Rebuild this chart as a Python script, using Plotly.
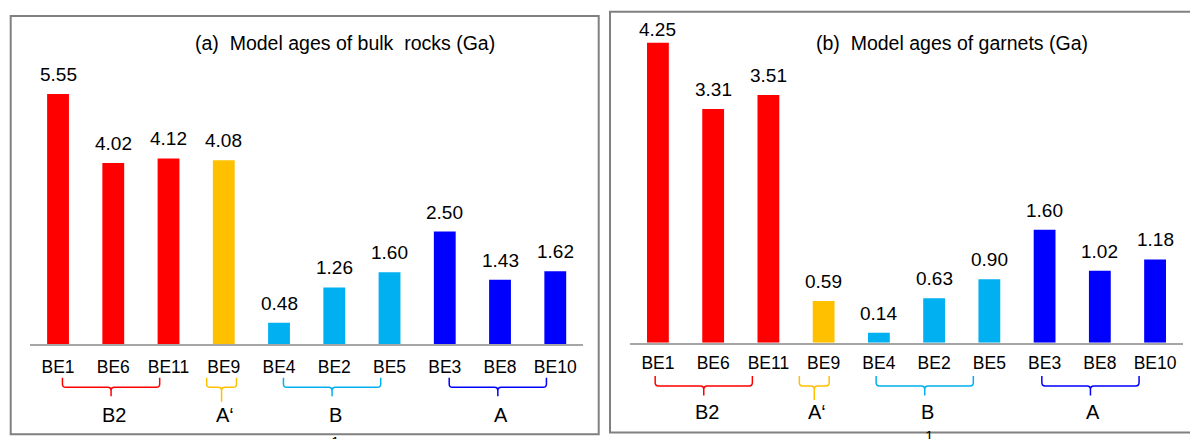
import plotly.graph_objects as go

# ---- data -------------------------------------------------------------
samples = ["BE1", "BE6", "BE11", "BE9", "BE4", "BE2", "BE5", "BE3", "BE8", "BE10"]
groups = ["B2", "B2", "B2", "A‘", "B", "B", "B", "A", "A", "A"]
bulk_ages = [5.55, 4.02, 4.12, 4.08, 0.48, 1.26, 1.60, 2.50, 1.43, 1.62]
garnet_ages = [4.25, 3.31, 3.51, 0.59, 0.14, 0.63, 0.90, 1.60, 1.02, 1.18]
group_names = ["B2", "A‘", "B", "A"]
panel_titles = ["(a)  Model ages of bulk  rocks (Ga)", "(b)  Model ages of garnets (Ga)"]
page_number = "1"

# ---- styling / layout -------------------------------------------------
W, H = 1190, 439
FONT = "Arial, Liberation Sans, Helvetica, sans-serif"
group_colors = {"B2": "#FF0000", "A‘": "#FFC000", "B": "#00B0F0", "A": "#0000FF"}
BORDER = "#808080"
AXIS_LINE = "#A6A6A6"

# per-panel pixel geometry (page coordinates, y measured from the top)
panels = [
    dict(values=bulk_ages, x0=30.4, x1=582.9, base=344.3, top=16.0, ppu=45.1,
         box=(10.7, 16.0, 598.7, 434.3), title_x=345, title_y=43,
         tick_y=368.3, br_top=377.7, br_mid=387.3, br_tick=9.0, br_tick_single=14.4,
         grp_y=414.5, br_shift=-0.04, lbl_shift=0.06, pn_x=335, pn_y=430.5,
         lbl_min_top=28),
    dict(values=garnet_ages, x0=630.3, x1=1182.7, base=342.7, top=11.7, ppu=70.6,
         box=(610.0, 11.7, 1200.0, 432.5), title_x=952, title_y=43,
         tick_y=365.0, br_top=376.0, br_mid=386.0, br_tick=9.5, br_tick_single=14.0,
         grp_y=411.5, br_shift=-0.17, lbl_shift=0.05, pn_x=929, pn_y=424.5,
         lbl_min_top=29.5),
]
BAR_WIDTH = 0.395
MULTI_HALF = 0.88
SINGLE_HALF = 0.27
LABEL_GAP = 19.5  # px from bar top to value-label centre


def fx(p):
    return p / W


def fy(p):
    return (H - p) / H


fig = go.Figure()
shapes = []
annotations = []
layout_axes = {}

for i, pn in enumerate(panels):
    n = "" if i == 0 else str(i + 1)
    xname, yname = "x" + n, "y" + n
    xa, ya = "xaxis" + n, "yaxis" + n

    fig.add_trace(go.Bar(
        x=samples, y=pn["values"],
        marker=dict(color=[group_colors[g] for g in groups], line=dict(width=0)),
        width=BAR_WIDTH, xaxis=xname, yaxis=yname, showlegend=False,
        hoverinfo="x+y",
    ))

    y_top = (pn["base"] - pn["top"]) / pn["ppu"]
    layout_axes[xa] = dict(
        domain=[fx(pn["x0"]), fx(pn["x1"])], anchor=yname, type="category",
        range=[-0.5, len(samples) - 0.5], showline=True, linecolor=AXIS_LINE,
        linewidth=1.5, ticks="", showgrid=False, zeroline=False,
        tickfont=dict(family=FONT, size=17.5, color="#000000"),
        ticklabelstandoff=int(round(pn["tick_y"] - pn["base"] - 18)),
    )
    layout_axes[ya] = dict(
        domain=[fy(pn["base"]), fy(pn["top"])], anchor=xname,
        range=[0, y_top], visible=False, showgrid=False, zeroline=False,
    )

    # panel frame
    bx0, by0, bx1, by1 = pn["box"]
    shapes.append(dict(type="rect", xref="paper", yref="paper",
                       x0=fx(bx0), x1=fx(bx1), y0=fy(by1), y1=fy(by0),
                       line=dict(color=BORDER, width=2), fillcolor="rgba(0,0,0,0)",
                       layer="below"))

    # panel title
    annotations.append(dict(text=panel_titles[i], xref="paper", yref="paper",
                            x=fx(pn["title_x"]), y=fy(pn["title_y"]),
                            xanchor="center", yanchor="middle", showarrow=False,
                            font=dict(family=FONT, size=19.5, color="#000000")))

    # value labels above bars
    for s, v in zip(samples, pn["values"]):
        bar_top_px = pn["base"] - v * pn["ppu"]
        centre_px = max(bar_top_px - LABEL_GAP, pn["lbl_min_top"])
        annotations.append(dict(text=f"{v:.2f}", xref=xname, yref=yname,
                                x=s, y=v, yshift=bar_top_px - centre_px,
                                xanchor="center", yanchor="middle", showarrow=False,
                                font=dict(family=FONT, size=19, color="#000000")))

    # group braces and labels
    for g in group_names:
        idx = [k for k, gg in enumerate(groups) if gg == g]
        centre = (idx[0] + idx[-1]) / 2 + pn["br_shift"]
        half = MULTI_HALF if len(idx) > 1 else SINGLE_HALF
        xl, xr = centre - half, centre + half
        r = 0.06
        yt, ym = fy(pn["br_top"]), fy(pn["br_mid"])
        rr = (pn["br_mid"] - pn["br_top"]) * 0.35 / H
        tick = pn["br_tick"] if len(idx) > 1 else pn["br_tick_single"]
        yb = fy(pn["br_mid"] + tick)
        path = (f"M {xl},{yt} L {xl},{ym + rr} Q {xl},{ym} {xl + r},{ym} "
                f"L {centre - r},{ym} Q {centre},{ym} {centre},{ym - rr} L {centre},{yb} "
                f"M {centre},{ym - rr} Q {centre},{ym} {centre + r},{ym} "
                f"L {xr - r},{ym} Q {xr},{ym} {xr},{ym + rr} L {xr},{yt}")
        shapes.append(dict(type="path", xref=xname, yref="paper", path=path,
                           line=dict(color=group_colors[g], width=1.5)))
        annotations.append(dict(text=g, xref=xname, yref="paper",
                                x=centre + pn["lbl_shift"], y=fy(pn["grp_y"]),
                                xanchor="center", yanchor="middle", showarrow=False,
                                font=dict(family=FONT, size=20, color="#000000")))

    # page number peeking in at the bottom edge
    annotations.append(dict(text=page_number, xref="paper", yref="paper",
                            x=fx(pn["pn_x"]), y=fy(pn["pn_y"]),
                            xanchor="center", yanchor="top", showarrow=False,
                            font=dict(family=FONT, size=15, color="#000000")))

fig.update_layout(
    width=W, height=H, margin=dict(l=0, r=0, t=0, b=0),
    paper_bgcolor="#FFFFFF", plot_bgcolor="rgba(0,0,0,0)",
    bargap=0.6, shapes=shapes, annotations=annotations,
    font=dict(family=FONT, color="#000000"),
    **layout_axes,
)

fig.write_html("out.html")
